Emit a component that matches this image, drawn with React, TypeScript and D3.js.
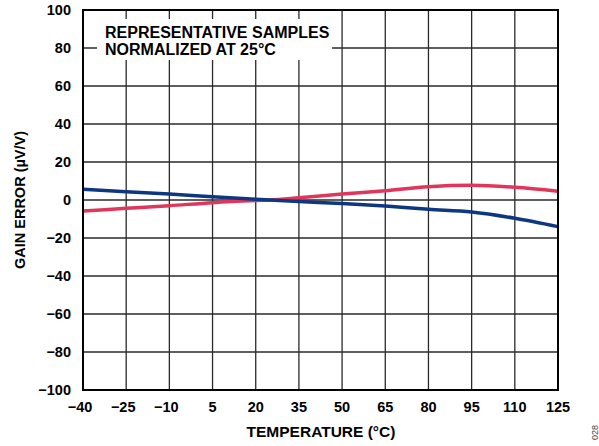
import React from "react";
import * as d3 from "d3";

const xTicks = [-40, -25, -10, 5, 20, 35, 50, 65, 80, 95, 110, 125];
const yTicks = [-100, -80, -60, -40, -20, 0, 20, 40, 60, 80, 100];
const temps = [-40, -25, -10, 5, 20, 25, 35, 50, 65, 80, 95, 110, 125];
const blueSeries = [5.6, 4.4, 3.2, 1.7, 0.4, 0, -0.8, -1.9, -3.2, -4.9, -6.3, -9.6, -14];
const redSeries = [-5.8, -4.4, -3.0, -1.4, -0.3, 0, 1.2, 3.2, 4.9, 7.0, 7.7, 6.7, 4.6];

const W = 599, H = 446;
const L = 83, R = 558, T = 10, B = 390;
const font = "'Liberation Sans', Arial, sans-serif";

export default function App() {
  const x = d3.scaleLinear().domain([-40, 125]).range([L, R]);
  const y = d3.scaleLinear().domain([-100, 100]).range([B, T]);
  const line = d3.line<number>().x((_, i) => x(temps[i])).y(d => y(d)).curve(d3.curveMonotoneX);
  const fmt = (v: number) => (v < 0 ? "\u2212" + Math.abs(v) : String(v));
  return (
    <svg width={W} height={H} style={{ position: "absolute", left: 0, top: 0 }}>
      <rect width={W} height={H} fill="#fff" />
      {xTicks.slice(1, -1).map(t => (
        <line key={"gx" + t} x1={x(t)} x2={x(t)} y1={T} y2={B} stroke="#2a2a2a" strokeWidth={1.3} />
      ))}
      {yTicks.slice(1, -1).map(t => (
        <line key={"gy" + t} x1={L} x2={R} y1={y(t)} y2={y(t)} stroke="#2a2a2a" strokeWidth={1.3} />
      ))}
      <rect x={97} y={19} width={235} height={41} fill="#fff" />
      <text x={105} y={38} fontFamily={font} fontWeight="bold" fontSize={16} fill="#000">REPRESENTATIVE SAMPLES</text>
      <text x={105} y={54.5} fontFamily={font} fontWeight="bold" fontSize={16} fill="#000">NORMALIZED AT 25°C</text>
      <path d={line(redSeries) || ""} fill="none" stroke="#e0365c" strokeWidth={3.5} />
      <path d={line(blueSeries) || ""} fill="none" stroke="#0d3880" strokeWidth={3.5} />
      <rect x={L} y={T} width={R - L} height={B - T} fill="none" stroke="#000" strokeWidth={2} />
      {xTicks.map(t => (
        <text key={"xl" + t} x={x(t) - (t < 0 ? 3 : 0)} y={412} textAnchor="middle" fontFamily={font} fontWeight="bold" fontSize={14.5} fill="#000">{fmt(t)}</text>
      ))}
      {yTicks.map(t => (
        <text key={"yl" + t} x={71} y={y(t) + 5} textAnchor="end" fontFamily={font} fontWeight="bold" fontSize={14.5} fill="#000">{fmt(t)}</text>
      ))}
      <text x={321} y={437} textAnchor="middle" fontFamily={font} fontWeight="bold" fontSize={15.5} fill="#000">TEMPERATURE (°C)</text>
      <text transform={`translate(25,${(T + B) / 2}) rotate(-90)`} textAnchor="middle" fontFamily={font} fontWeight="bold" fontSize={14.5} fill="#000">GAIN ERROR (µV/V)</text>
      <text transform={`translate(598,440) rotate(-90)`} fontFamily={font} fontSize={9} fill="#444">028</text>
    </svg>
  );
}
